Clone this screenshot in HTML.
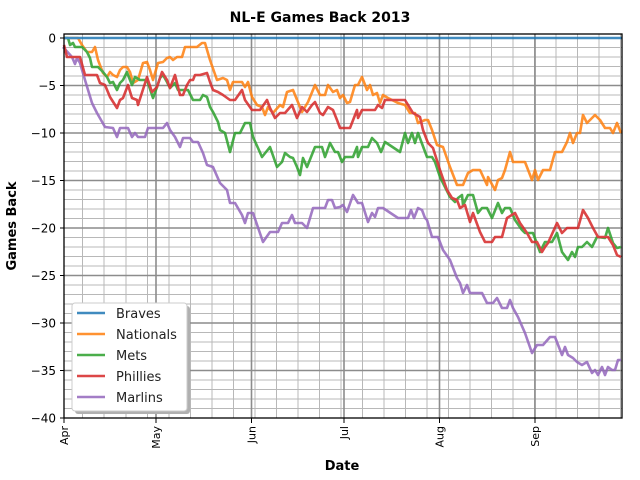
<!DOCTYPE html>
<html><head><meta charset="utf-8"><style>body{margin:0;background:#fff}svg{display:block;font-family:"DejaVu Sans","Liberation Sans",sans-serif}</style></head>
<body>
<svg width="640" height="480" viewBox="0 0 640 480" xmlns="http://www.w3.org/2000/svg">
<rect width="640" height="480" fill="#fff"/>
<g stroke="#b8b8b8" stroke-width="1">
<line x1="64" x2="622" y1="47.5" y2="47.5"/><line x1="64" x2="622" y1="57" y2="57"/><line x1="64" x2="622" y1="66.5" y2="66.5"/><line x1="64" x2="622" y1="76" y2="76"/>
<line x1="64" x2="622" y1="95" y2="95"/><line x1="64" x2="622" y1="104.5" y2="104.5"/><line x1="64" x2="622" y1="114" y2="114"/><line x1="64" x2="622" y1="123.5" y2="123.5"/>
<line x1="64" x2="622" y1="142.5" y2="142.5"/><line x1="64" x2="622" y1="152" y2="152"/><line x1="64" x2="622" y1="161.5" y2="161.5"/><line x1="64" x2="622" y1="171" y2="171"/>
<line x1="64" x2="622" y1="190" y2="190"/><line x1="64" x2="622" y1="199.5" y2="199.5"/><line x1="64" x2="622" y1="209" y2="209"/><line x1="64" x2="622" y1="218.5" y2="218.5"/>
<line x1="64" x2="622" y1="237.5" y2="237.5"/><line x1="64" x2="622" y1="247" y2="247"/><line x1="64" x2="622" y1="256.5" y2="256.5"/><line x1="64" x2="622" y1="266" y2="266"/>
<line x1="64" x2="622" y1="285" y2="285"/><line x1="64" x2="622" y1="294.5" y2="294.5"/><line x1="64" x2="622" y1="304" y2="304"/><line x1="64" x2="622" y1="313.5" y2="313.5"/>
<line x1="64" x2="622" y1="332.5" y2="332.5"/><line x1="64" x2="622" y1="342" y2="342"/><line x1="64" x2="622" y1="351.5" y2="351.5"/><line x1="64" x2="622" y1="361" y2="361"/>
<line x1="64" x2="622" y1="380" y2="380"/><line x1="64" x2="622" y1="389.5" y2="389.5"/><line x1="64" x2="622" y1="399" y2="399"/><line x1="64" x2="622" y1="408.5" y2="408.5"/>
<line y1="34" y2="418" x1="82.5" x2="82.5"/><line y1="34" y2="418" x1="104" x2="104"/><line y1="34" y2="418" x1="126" x2="126"/><line y1="34" y2="418" x1="147.5" x2="147.5"/>
<line y1="34" y2="418" x1="169" x2="169"/><line y1="34" y2="418" x1="190.5" x2="190.5"/><line y1="34" y2="418" x1="212" x2="212"/><line y1="34" y2="418" x1="233.5" x2="233.5"/>
<line y1="34" y2="418" x1="255" x2="255"/><line y1="34" y2="418" x1="276.5" x2="276.5"/><line y1="34" y2="418" x1="298" x2="298"/><line y1="34" y2="418" x1="319.5" x2="319.5"/>
<line y1="34" y2="418" x1="341" x2="341"/><line y1="34" y2="418" x1="362.5" x2="362.5"/><line y1="34" y2="418" x1="384" x2="384"/><line y1="34" y2="418" x1="405.5" x2="405.5"/>
<line y1="34" y2="418" x1="427" x2="427"/><line y1="34" y2="418" x1="448.5" x2="448.5"/><line y1="34" y2="418" x1="470" x2="470"/><line y1="34" y2="418" x1="491.5" x2="491.5"/>
<line y1="34" y2="418" x1="513" x2="513"/><line y1="34" y2="418" x1="534.5" x2="534.5"/><line y1="34" y2="418" x1="556" x2="556"/><line y1="34" y2="418" x1="577.5" x2="577.5"/>
<line y1="34" y2="418" x1="599" x2="599"/><line y1="34" y2="418" x1="620.5" x2="620.5"/>
</g>
<g stroke="#8c8c8c" stroke-width="1.6">
<line x1="64" x2="622" y1="85.5" y2="85.5"/><line x1="64" x2="622" y1="133" y2="133"/><line x1="64" x2="622" y1="180.5" y2="180.5"/><line x1="64" x2="622" y1="228" y2="228"/><line x1="64" x2="622" y1="275.5" y2="275.5"/><line x1="64" x2="622" y1="323" y2="323"/><line x1="64" x2="622" y1="370.5" y2="370.5"/>
<line y1="34" y2="418" x1="156" x2="156"/><line y1="34" y2="418" x1="251.5" x2="251.5"/><line y1="34" y2="418" x1="344" x2="344"/><line y1="34" y2="418" x1="439.5" x2="439.5"/><line y1="34" y2="418" x1="535" x2="535"/>
</g>
<g fill="none" stroke-width="2.6" stroke-linejoin="round" opacity="0.85">
<polyline stroke="#9467bd" stroke="#a77dd0" points="63,47 72,57 75,64 77,58 80,63 85,80 92,103 97,113 105,127 113,128 117,137 120,128 128,128 132,137 135,133 138,137 145,137 148,128 163,128 167,123 170,130 175,137 180,147 183,138 190,138 193,142 198,142 203,153 207,165 213,167 220,183 227,190 230,203 235,203 242,215 245,223 248,213 253,213 263,242 270,232 278,232 282,223 288,223 292,215 295,223 302,223 307,228 313,208 325,208 328,200 332,200 335,208 340,207 343,205 347,212 353,195 358,203 362,203 368,222 372,213 375,217 378,208 383,208 398,218 408,218 411,210 414,218 418,208 422,210 425,218 427,220 432,237 438,237 443,250 450,260 457,278 460,283 463,293 467,285 470,293 482,293 487,303 493,303 497,298 502,308 507,308 510,300 513,308 518,317 525,333 532,353 537,345 543,345 550,337 555,337 562,355 565,347 568,355 573,358 577,362 582,365 587,362 592,373 595,370 598,375 602,367 605,375 608,367 612,370 615,370 618,360 621,360"/>
<polyline stroke="#ff7f0e" points="64,38 78,38 82,45 87,52 92,52 95,47 98,60 103,73 107,77 110,72 113,75 117,77 120,70 123,67 127,67 130,72 133,83 138,80 143,63 147,62 150,70 153,80 158,63 163,62 167,58 170,57 173,60 177,57 182,57 185,47 197,47 202,43 205,43 210,60 217,80 223,78 227,80 230,90 233,82 242,82 245,87 248,82 252,97 257,105 262,107 265,115 268,107 273,113 280,105 283,107 287,92 293,90 302,112 308,102 315,85 320,95 325,95 328,85 333,92 337,90 340,98 343,95 347,103 350,102 355,85 358,85 362,77 367,90 370,85 373,95 377,93 380,103 383,95 388,98 398,103 405,105 410,113 415,113 418,123 425,120 428,120 432,130 437,145 443,147 450,167 457,185 463,185 468,173 473,170 480,170 487,185 488,177 495,190 498,180 502,178 505,170 510,152 513,162 525,162 532,180 535,170 538,180 543,170 550,170 555,152 562,152 567,142 570,133 573,143 577,133 580,133 583,115 587,123 595,115 600,120 605,128 610,128 613,133 617,123 621,133"/>
<polyline stroke="#2ca02c" points="64,38 68,38 70,45 73,43 75,47 82,47 87,52 90,58 92,67 98,67 103,72 107,77 110,83 113,82 117,90 120,83 123,80 127,72 128,75 132,85 135,77 140,80 147,80 153,98 157,87 160,78 163,75 167,82 170,88 175,83 178,90 183,90 188,90 193,100 200,100 203,95 207,97 210,107 213,112 218,122 220,130 225,133 230,152 235,133 240,133 245,123 250,123 253,137 258,148 262,157 270,147 277,167 282,162 285,153 290,157 293,158 297,167 300,175 303,158 307,167 315,147 322,147 325,157 330,143 335,152 338,152 342,162 345,157 353,157 357,147 358,157 362,147 368,147 372,138 377,143 381,152 385,142 400,152 405,133 408,143 412,133 415,143 418,133 427,157 432,157 435,162 440,177 450,197 455,202 458,198 462,195 463,205 468,195 473,195 478,213 482,208 487,208 492,218 498,203 502,213 505,208 510,208 515,220 522,230 525,233 533,233 540,252 545,242 552,242 557,233 562,252 568,260 572,252 575,257 578,247 582,247 587,242 592,247 597,237 605,238 608,228 613,243 617,248 621,247"/>
<polyline stroke="#d62728" points="64,45 67,57 80,57 85,75 97,75 100,83 105,85 110,97 117,108 120,100 123,98 128,85 132,98 137,100 138,105 147,77 152,92 157,87 162,72 167,80 170,88 175,75 180,95 183,95 187,85 190,80 193,80 195,75 200,75 207,73 210,82 213,90 218,92 223,95 230,100 235,100 242,90 245,100 252,110 260,110 267,100 270,108 275,118 280,113 285,113 292,105 297,118 302,107 307,112 312,105 315,102 320,113 323,115 328,107 333,110 337,120 340,128 350,128 357,110 358,118 362,110 375,110 378,105 382,108 385,100 405,100 413,113 420,117 423,130 428,143 433,148 440,170 447,190 452,198 457,200 460,208 465,205 470,222 473,213 480,232 485,242 492,242 495,237 502,237 507,218 515,213 520,223 527,233 532,242 537,242 542,252 545,247 548,243 557,223 562,233 567,228 578,228 583,210 588,218 593,228 598,237 608,237 613,245 617,255 621,257"/>
<line stroke="#1f77b4" x1="64" x2="622" y1="38" y2="38"/>
</g>
<rect x="64" y="34" width="558" height="384" fill="none" stroke="#000" stroke-width="1.3"/>
<g stroke="#000" stroke-width="1">
<line x1="60" x2="64" y1="38" y2="38"/><line x1="60" x2="64" y1="85.5" y2="85.5"/><line x1="60" x2="64" y1="133" y2="133"/><line x1="60" x2="64" y1="180.5" y2="180.5"/><line x1="60" x2="64" y1="228" y2="228"/><line x1="60" x2="64" y1="275.5" y2="275.5"/><line x1="60" x2="64" y1="323" y2="323"/><line x1="60" x2="64" y1="370.5" y2="370.5"/><line x1="60" x2="64" y1="418" y2="418"/>
<line y1="418" y2="423" x1="64" x2="64"/><line y1="418" y2="423" x1="156" x2="156"/><line y1="418" y2="423" x1="251.5" x2="251.5"/><line y1="418" y2="423" x1="344" x2="344"/><line y1="418" y2="423" x1="439.5" x2="439.5"/><line y1="418" y2="423" x1="535" x2="535"/>
</g>
<g font-size="12" text-anchor="end" fill="#000">
<text x="56" y="42.5">0</text><text x="56" y="90">−5</text><text x="56" y="137.5">−10</text><text x="56" y="185">−15</text><text x="56" y="232.5">−20</text><text x="56" y="280">−25</text><text x="56" y="327.5">−30</text><text x="56" y="375">−35</text><text x="56" y="422.5">−40</text>
</g>
<g font-size="11" text-anchor="end" fill="#000">
<text transform="translate(68,426) rotate(-90)">Apr</text>
<text transform="translate(160,426) rotate(-90)">May</text>
<text transform="translate(255.5,426) rotate(-90)">Jun</text>
<text transform="translate(348,426) rotate(-90)">Jul</text>
<text transform="translate(443.5,426) rotate(-90)">Aug</text>
<text transform="translate(539,426) rotate(-90)">Sep</text>
</g>
<text x="320" y="22" font-size="14" font-weight="bold" text-anchor="middle">NL-E Games Back 2013</text>
<text x="342" y="470" font-size="13" font-weight="bold" text-anchor="middle">Date</text>
<text transform="translate(16,226) rotate(-90)" font-size="13" font-weight="bold" text-anchor="middle">Games Back</text>
<rect x="75" y="306" width="115" height="108" rx="3" fill="#b0b0b0"/>
<rect x="72" y="303" width="115" height="108" rx="3" fill="#fff" stroke="#ccc"/>
<g stroke-width="2.6" opacity="0.85">
<line x1="77" x2="105" y1="313" y2="313" stroke="#1f77b4"/>
<line x1="77" x2="105" y1="334" y2="334" stroke="#ff7f0e"/>
<line x1="77" x2="105" y1="355" y2="355" stroke="#2ca02c"/>
<line x1="77" x2="105" y1="376" y2="376" stroke="#d62728"/>
<line x1="77" x2="105" y1="397" y2="397" stroke="#9467bd"/>
</g>
<g font-size="13" fill="#222">
<text x="116" y="318">Braves</text><text x="116" y="339">Nationals</text><text x="116" y="360">Mets</text><text x="116" y="381">Phillies</text><text x="116" y="402">Marlins</text>
</g>
</svg>
</body></html>
